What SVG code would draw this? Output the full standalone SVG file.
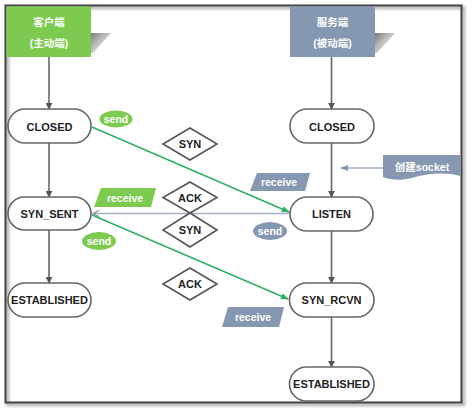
<svg xmlns="http://www.w3.org/2000/svg" width="473" height="413" viewBox="0 0 473 413">
<style>
  .st rect{fill:#fff;stroke:#666;stroke-width:1.6}
  .st text{font-family:"Liberation Sans","Noto Sans CJK SC",sans-serif;font-weight:bold;font-size:11px;fill:#222;text-anchor:middle}
  .dm polygon{fill:#fff;stroke:#555;stroke-width:1.6}
  .dm text{font-family:"Liberation Sans",sans-serif;font-weight:bold;font-size:11px;fill:#222;text-anchor:middle}
  .hd text{font-family:"Liberation Sans","Noto Sans CJK SC",sans-serif;font-weight:bold;font-size:10.5px;fill:#fff;text-anchor:middle}
  .lb text{font-family:"Liberation Sans","Noto Sans CJK SC",sans-serif;font-weight:bold;font-size:10.5px;fill:#fff;text-anchor:middle}
  .g{fill:#7ccb4e}
  .b{fill:#8697b1}
  .vl{stroke:#666;stroke-width:1.6;fill:none;marker-end:url(#ag)}
  .gl{stroke:#2fb065;stroke-width:1.6;fill:none;marker-end:url(#agr)}
  .bl{stroke:#a3b0c6;stroke-width:1.6;fill:none}
</style>
<defs>
  <marker id="ag" viewBox="0 0 10 10" refX="9" refY="5" markerWidth="7" markerHeight="7" markerUnits="userSpaceOnUse" orient="auto"><path d="M0,0 L10,5 L0,10 Z" fill="#555"/></marker>
  <marker id="agr" viewBox="0 0 10 10" refX="9" refY="5" markerWidth="8" markerHeight="8" markerUnits="userSpaceOnUse" orient="auto"><path d="M0,1 L10,5 L0,9 Z" fill="#2fb065"/></marker>
  <marker id="abo" viewBox="0 0 10 10" refX="9" refY="5" markerWidth="8" markerHeight="8" markerUnits="userSpaceOnUse" orient="auto"><path d="M1,1 L9,5 L1,9" fill="none" stroke="#8697b1" stroke-width="1.5"/></marker>
  <marker id="abf" viewBox="0 0 10 10" refX="9" refY="5" markerWidth="8" markerHeight="8" markerUnits="userSpaceOnUse" orient="auto"><path d="M0,1 L10,5 L0,9 Z" fill="#8697b1"/></marker>
  <linearGradient id="sh" x1="0" y1="0" x2="1" y2="1"><stop offset="0" stop-color="#777"/><stop offset="1" stop-color="#ddd" stop-opacity="0.3"/></linearGradient>
  <filter id="fs" x="-5%" y="-5%" width="110%" height="110%"><feGaussianBlur stdDeviation="1.5"/></filter>
</defs>

<rect x="0" y="0" width="473" height="413" fill="#fff"/>
<g id="frame">
  <rect x="7.5" y="7.5" width="456" height="397" fill="none" stroke="#aaa" stroke-width="3" filter="url(#fs)"/>
  <rect x="5.5" y="5.5" width="456" height="397" fill="none" stroke="#444" stroke-width="2"/>
</g>

<g id="header-client" class="hd">
  <polygon points="91,33 111,33 93,53 91,53" fill="url(#sh)"/>
  <rect x="6.5" y="6.5" width="84.5" height="50.5" class="g"/>
  <text x="49" y="26">客户端</text>
  <text x="49" y="47">(主动端)</text>
</g>
<g id="header-server" class="hd">
  <polygon points="375,33 395,33 377,53 375,53" fill="url(#sh)"/>
  <rect x="290" y="6.5" width="85" height="50.5" class="b"/>
  <text x="332.5" y="26">服务端</text>
  <text x="332.5" y="47">(被动端)</text>
</g>

<g id="connectors">
  <line class="vl" x1="49" y1="57" x2="49" y2="109"/>
  <line class="vl" x1="49" y1="143" x2="49" y2="197"/>
  <line class="vl" x1="49" y1="230" x2="49" y2="283"/>
  <line class="vl" x1="331.5" y1="57" x2="331.5" y2="109"/>
  <line class="vl" x1="331.5" y1="143" x2="331.5" y2="197"/>
  <line class="vl" x1="331.5" y1="231" x2="331.5" y2="283"/>
  <line class="vl" x1="331.5" y1="317" x2="331.5" y2="367"/>
  <line class="bl" x1="290" y1="213.5" x2="93" y2="213.5" marker-end="url(#abo)"/>
  <line class="gl" x1="92" y1="127" x2="289" y2="212"/>
  <line class="gl" x1="92" y1="215" x2="288" y2="299"/>
  <line class="bl" x1="383" y1="168" x2="341" y2="168" marker-end="url(#abf)"/>
</g>

<g id="closed-client" class="st"><rect x="8" y="109" width="83" height="34" rx="17"/><text x="49.5" y="130.5">CLOSED</text></g>
<g id="syn-sent" class="st"><rect x="8" y="197" width="83" height="33" rx="16.5"/><text x="49.5" y="217.5">SYN_SENT</text></g>
<g id="established-client" class="st"><rect x="8" y="283" width="83" height="34" rx="17"/><text x="49.5" y="304" font-size="10.5">ESTABLISHED</text></g>

<g id="closed-server" class="st"><rect x="290" y="109" width="84" height="34" rx="17"/><text x="332" y="130.5">CLOSED</text></g>
<g id="listen" class="st"><rect x="290" y="197" width="83" height="34" rx="17"/><text x="331.5" y="218">LISTEN</text></g>
<g id="syn-rcvn" class="st"><rect x="289.5" y="283" width="84.5" height="34" rx="17"/><text x="331.5" y="304">SYN_RCVN</text></g>
<g id="established-server" class="st"><rect x="289.5" y="367" width="84.5" height="34" rx="17"/><text x="331.5" y="388" font-size="10.5">ESTABLISHED</text></g>

<g id="diamond-syn-1" class="dm"><polygon points="190,128 217,144 190,160 163,144"/><text x="190" y="148">SYN</text></g>
<g id="diamond-ack-1" class="dm"><polygon points="190,182 217,197.5 190,213 163,197.5"/><text x="190" y="201.5">ACK</text></g>
<g id="diamond-syn-2" class="dm"><polygon points="190,213 217,230 190,247 163,230"/><text x="190" y="234">SYN</text></g>
<g id="diamond-ack-2" class="dm"><polygon points="190,268 217,284 190,300 163,284"/><text x="190" y="288">ACK</text></g>

<g id="label-send-1" class="lb"><ellipse cx="116" cy="119" rx="16.5" ry="8.5" class="g"/><text x="116" y="122.5">send</text></g>
<g id="label-receive-1" class="lb"><polygon points="101,188 156,188 151,207 94,207" class="g"/><text x="125" y="201.5">receive</text></g>
<g id="label-send-2" class="lb"><ellipse cx="99" cy="241" rx="17" ry="9" class="g"/><text x="99" y="244.5">send</text></g>
<g id="label-receive-2" class="lb"><polygon points="257,173 310,173 305,191 250,191" class="b"/><text x="279" y="185.5">receive</text></g>
<g id="label-send-3" class="lb"><ellipse cx="270" cy="231" rx="17" ry="9" class="b"/><text x="270" y="234.5">send</text></g>
<g id="label-receive-3" class="lb"><polygon points="228,307 284,307 279,327 222,327" class="b"/><text x="253" y="321">receive</text></g>
<g id="create-socket" class="lb"><path d="M383,155 H461 V176 C445,172 428,173 412,178 C400,181 391,180 383,177 Z" class="b"/><text x="422" y="171">创建socket</text></g>
</svg>
